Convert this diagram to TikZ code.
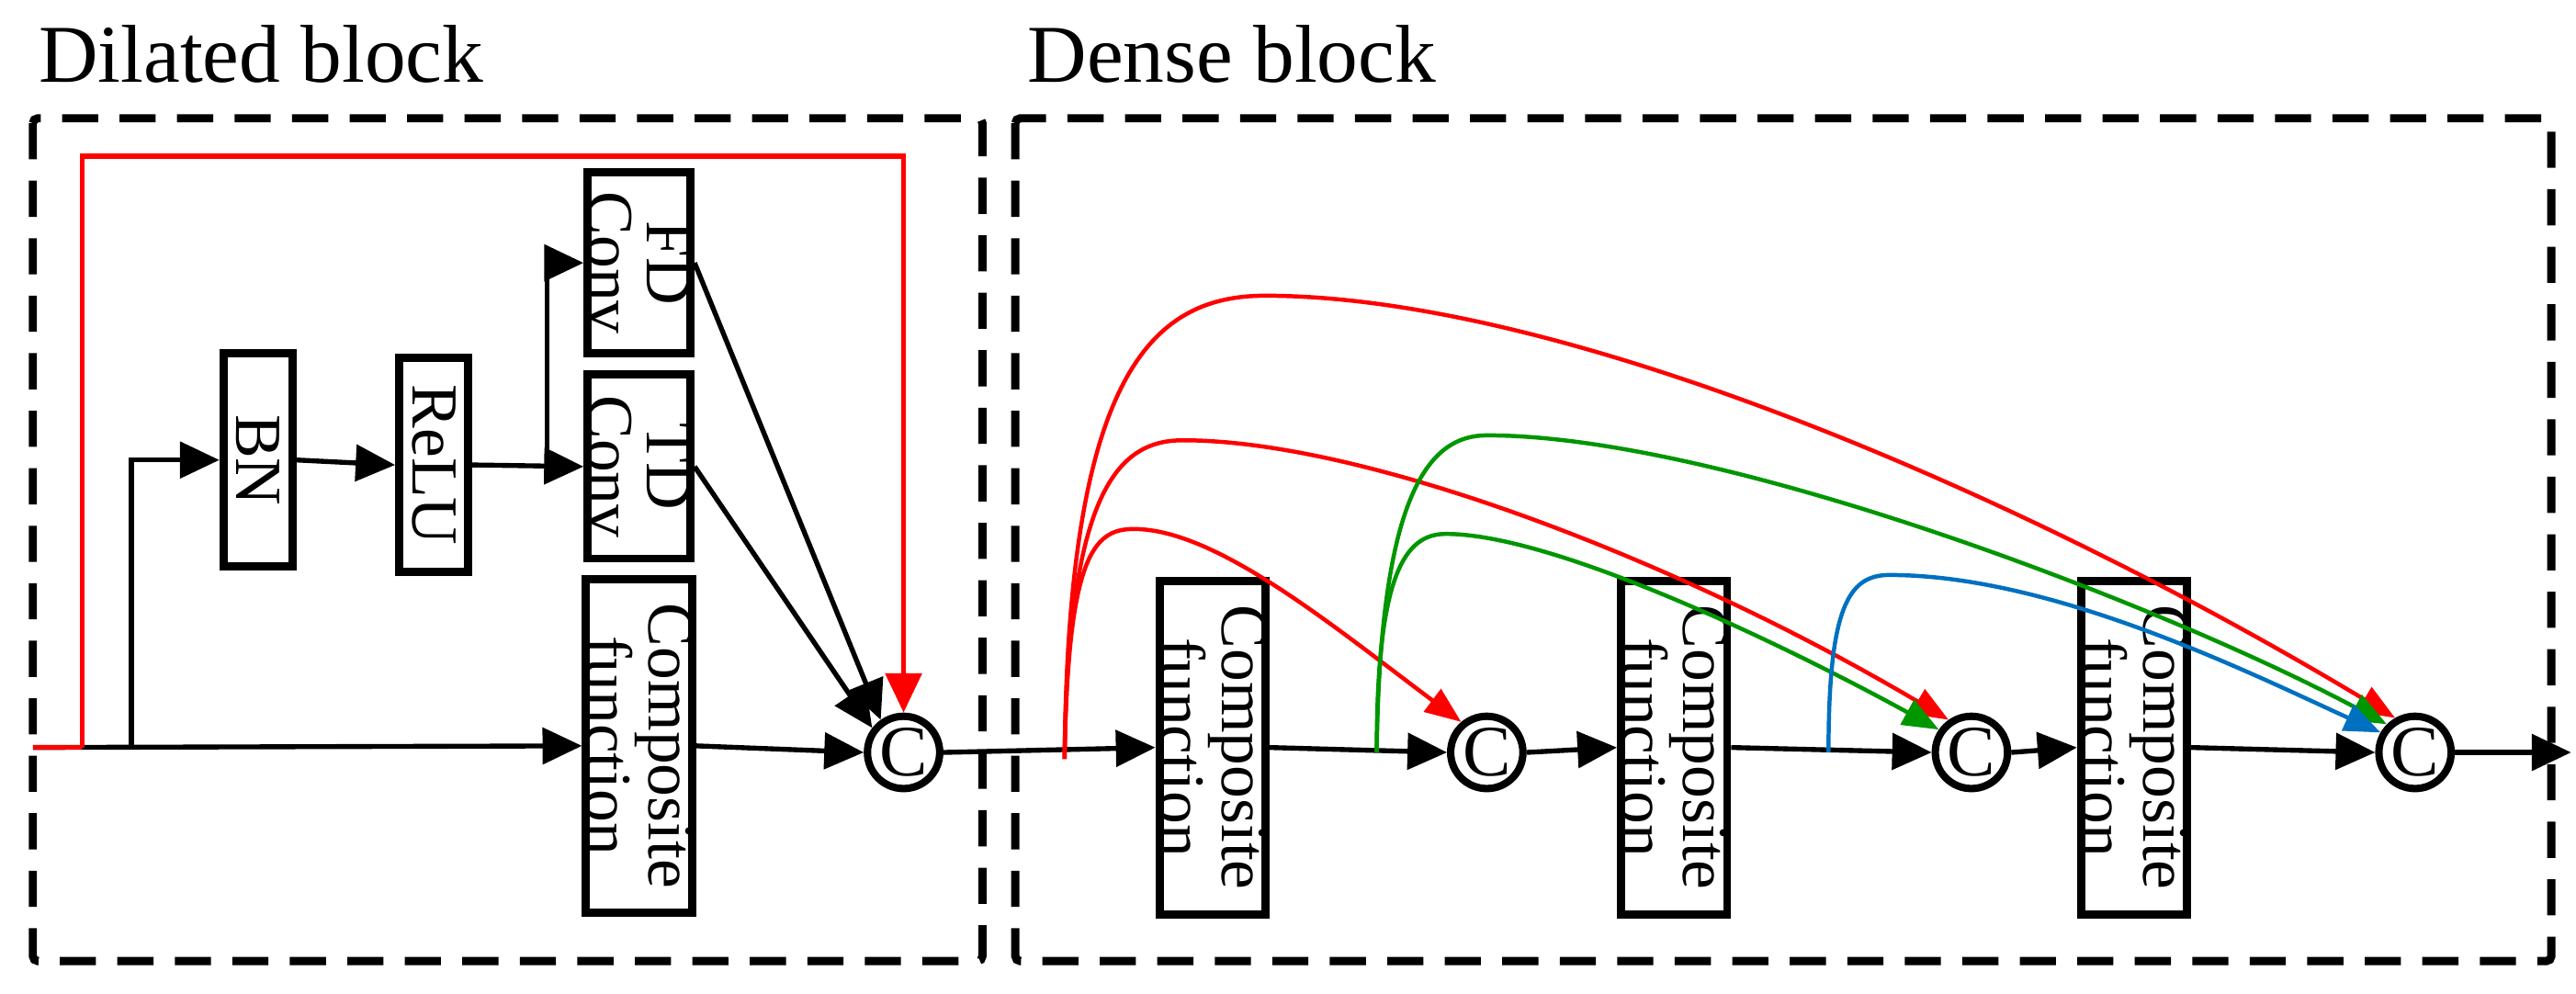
\documentclass[tikz,border=0pt]{standalone}
\usepackage{fontspec}
\setmainfont{Liberation Serif}
\usetikzlibrary{arrows.meta}
\definecolor{rd}{RGB}{255,0,0}
\definecolor{gn}{RGB}{0,150,0}
\definecolor{bl}{RGB}{0,112,192}
\begin{document}
\begin{tikzpicture}[x=1pt,y=-1pt,
  tip/.style={-{Triangle[length=24pt,width=22pt]}},
  ln/.style={line width=3pt},
  box/.style={draw,line width=5pt,minimum width=#1,minimum height=42pt,inner sep=0pt,rotate=-90,font=\fontsize{40}{36}\selectfont,align=center},
  cc/.style={circle,draw,line width=4.5pt,minimum size=44pt,inner sep=0pt,font=\fontsize{44}{44}\selectfont},
  dbox/.style={draw,line width=5pt,dash pattern=on 22pt off 13pt,rounded corners=3pt},
  title/.style={font=\fontsize{50}{50}\selectfont,anchor=base west},
  cur/.style={line width=2.5pt,-{Triangle[length=22pt,width=17pt]}}]
\useasboundingbox (0,0) rectangle (1568,605);
\node[title] (t1) at (20,50) {Dilated block};
\node[title] (t2) at (622,50) {Dense block};
\draw[dbox] (20,72) rectangle (598,585);
\draw[dbox] (618,72) rectangle (1553,585);
% left block
\node[box=130pt] (bn) at (157,280) {BN};
\node[box=130pt] (relu) at (264,283) {ReLU};
\node[box=110pt] (fd) at (389,160) {FD\\Conv};
\node[box=112pt] (td) at (389,284) {TD\\Conv};
\node[box=203pt] (cf1) at (389,454) {Composite\\function};
\node[cc] (c1) at (550,458) {C};
\coordinate (in) at (20,455);
\coordinate (s1) at (50,455);
\coordinate (b1) at (80,455);
\coordinate (j1) at (333,282);
\draw[ln,tip] (in) -- (cf1.south);
\draw[rd,line width=3pt] (in) -- (s1);
\draw[rd,line width=3pt,tip] (s1) |- (550,95) -- (c1.north);
\draw[ln,tip] (b1) |- (bn.south);
\draw[ln,tip] (bn.north) -- (relu.south);
\draw[ln,tip] (relu.north) -- (td.south);
\draw[ln,tip] (j1) |- (fd.south);
\draw[ln,tip] (fd.north) -- (c1.125);
\draw[ln,tip] (td.north) -- (c1.142);
\draw[ln,tip] (cf1.north) -- (c1.west);
% dense block
\node[box=203pt] (cf2) at (738,455) {Composite\\function};
\node[cc] (c2) at (905,458) {C};
\node[box=203pt] (cf3) at (1019,455) {Composite\\function};
\node[cc] (c3) at (1200,458) {C};
\node[box=203pt] (cf4) at (1299,455) {Composite\\function};
\node[cc] (c4) at (1470,458) {C};
\coordinate (out) at (1565,458);
\coordinate (d0) at (648,462);
\coordinate (g0) at (838,458);
\coordinate (b0) at (1113,458);
\draw[ln,tip] (c1.east) -- (cf2.south);
\draw[ln,tip] (cf2.north) -- (c2.west);
\draw[ln,tip] (c2.east) -- (cf3.south);
\draw[ln,tip] (cf3.north) -- (c3.west);
\draw[ln,tip] (c3.east) -- (cf4.south);
\draw[ln,tip] (cf4.north) -- (c4.west);
\draw[ln,tip] (c4.east) -- (out);
% skip curves
\draw[rd,cur] (d0) .. controls (650,340) and (665,322) .. (690,322) .. controls (740,322) and (810,380) .. (c2.130);
\draw[rd,cur] (d0) .. controls (650,300) and (680,268) .. (720,268) .. controls (830,268) and (1020,340) .. (c3.125);
\draw[rd,cur] (d0) .. controls (650,230) and (700,180) .. (770,180) .. controls (950,180) and (1230,300) .. (c4.120);
\draw[gn,cur] (g0) .. controls (838,350) and (855,325) .. (880,325) .. controls (950,325) and (1100,400) .. (c3.145);
\draw[gn,cur] (g0) .. controls (840,300) and (870,265) .. (905,265) .. controls (1050,265) and (1320,370) .. (c4.135);
\draw[bl,cur] (b0) .. controls (1113,370) and (1125,350) .. (1150,350) .. controls (1250,350) and (1370,410) .. (c4.150);
\end{tikzpicture}
\end{document}
